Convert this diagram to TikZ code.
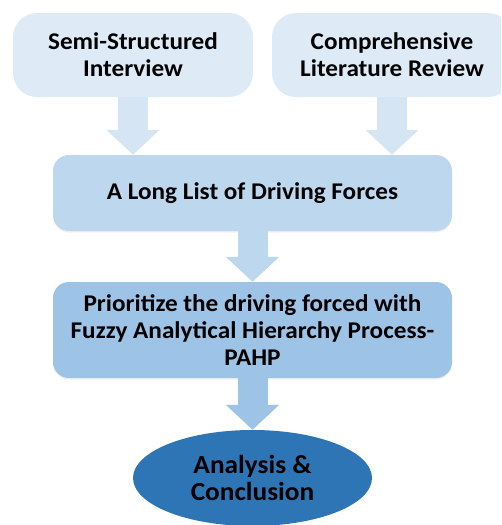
\documentclass[tikz,border=0pt]{standalone}
\usepackage{fontspec}
\setmainfont{Carlito}
\usetikzlibrary{arrows.meta,shapes.geometric,shadows}
\definecolor{cLight}{HTML}{DEEBF7}
\definecolor{cArrowA}{HTML}{D6E5F4}
\definecolor{cMid}{HTML}{BDD7EE}
\definecolor{cDark}{HTML}{9DC3E6}
\definecolor{cEll}{HTML}{2E75B6}
\newcommand{\boxfont}{\bfseries\addfontfeature{FakeStretch=1.05}\fontsize{24}{27}\selectfont}
\newcommand{\ellfont}{\bfseries\addfontfeature{FakeStretch=1.05}\fontsize{26}{27}\selectfont}
\tikzset{
  topbox/.style={rectangle, rounded corners=24pt, fill=cLight, minimum width=240pt, minimum height=84pt, align=center, font=\boxfont, inner sep=0pt},
  midbox/.style={rectangle, rounded corners=16pt, fill=#1, minimum width=399pt, align=center, font=\boxfont, inner sep=0pt, drop shadow={shadow xshift=0pt, shadow yshift=-1.5pt, opacity=0.12}},
  ellbox/.style={ellipse, fill=cEll, minimum width=239pt, minimum height=96pt, align=center, font=\ellfont, inner sep=0pt},
  blockarrow/.style={line width=30pt, draw=#1, -{Triangle[width=52pt,length=25pt]}},
}
\begin{document}
\begin{tikzpicture}[x=1pt,y=-1pt]
\useasboundingbox (0,0) rectangle (501,525);
\clip (0,0) rectangle (501,525);
\node[topbox] (ssi) at (133,55) {Semi-Structured\\Interview};
\node[topbox] (clr) at (392,55) {Comprehensive\\Literature Review};
\node[midbox=cMid, minimum height=76pt] (list) at (252.5,193) {A Long List of Driving Forces};
\node[midbox=cDark, minimum height=96pt] (fahp) at (252.5,330) {Prioritize the driving forced with\\Fuzzy Analytical Hierarchy Process-\\PAHP};
\node[ellbox] (ana) at (252.5,478) {Analysis \&\\Conclusion};
\draw[blockarrow=cArrowA] (ssi.south) -- (ssi.south |- list.north);
\draw[blockarrow=cArrowA] (clr.south) -- (clr.south |- list.north);
\draw[blockarrow=cMid] (list.south) -- (fahp.north);
\draw[blockarrow=cDark] (fahp.south) -- (ana.north);
\end{tikzpicture}
\end{document}
